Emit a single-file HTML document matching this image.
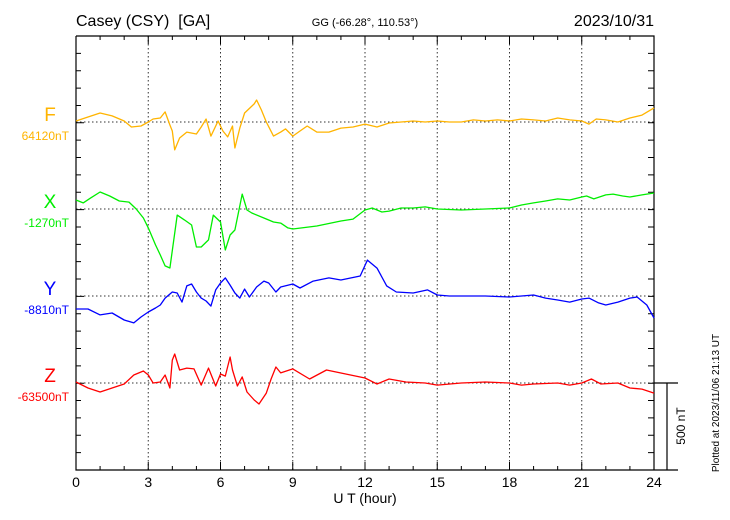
<!DOCTYPE html>
<html><head><meta charset="utf-8"><style>
html,body{margin:0;padding:0;background:#fff;}
svg{display:block;font-family:"Liberation Sans",sans-serif;}
</style></head><body>
<svg id="chart" width="730" height="520" viewBox="0 0 730 520" xmlns="http://www.w3.org/2000/svg">
<text x="76" y="26" font-size="16">Casey (CSY)&#160; [GA]</text>
<text x="365" y="26" font-size="11" text-anchor="middle">GG (-66.28°, 110.53°)</text>
<text x="654" y="26" font-size="16" text-anchor="end">2023/10/31</text>
<g id="grid"></g>
<g id="axes"></g>
<g id="series"></g>
<g id="labels"></g>
<text x="365" y="503" font-size="14" text-anchor="middle">U T (hour)</text>
<text x="685" y="426" font-size="12" text-anchor="middle" transform="rotate(-90 685 426)">500 nT</text>
<text x="719" y="403" font-size="10" text-anchor="middle" transform="rotate(-90 719 403)">Plotted at 2023/11/06 21:13 UT</text>
</svg>
<script>
const xTicks=[0,3,6,9,12,15,18,21,24];
const fHours=[0,0.25,0.5,1,1.5,2,2.3,2.7,3,3.2,3.5,3.7,3.9,4,4.1,4.3,4.6,5,5.2,5.4,5.6,5.9,6.1,6.3,6.5,6.6,6.8,7,7.4,7.5,7.7,7.9,8.2,8.5,8.7,9,9.3,9.6,10,10.5,11,11.5,12,12.5,13,13.5,14,14.5,15,15.5,16,16.5,17,17.5,18,18.5,19,19.5,20,20.5,21,21.3,21.6,22,22.5,23,23.5,24];
const fValues=[6,17,29,52,35,6,-29,-23,0,17,23,58,-17,-52,-161,-92,-58,-69,-29,17,-81,6,-52,-86,-23,-150,-35,52,104,127,69,0,-81,-58,-40,-81,-52,-23,-58,-58,-35,-29,-12,-29,-6,0,6,0,6,0,0,12,6,12,6,17,12,6,23,12,6,-12,17,12,0,23,40,81];
const xHours=[0,0.3,0.6,1,1.4,1.8,2.2,2.5,2.8,3,3.3,3.5,3.7,3.9,4.2,4.5,4.8,5,5.2,5.5,5.7,6,6.2,6.4,6.6,6.9,7.1,7.3,7.8,8.2,8.5,8.8,9,10,11,11.5,12,12.3,12.7,13,13.5,14,14.5,15,16,17,18,18.5,19,19.5,20,20.5,21,21.2,21.5,22,22.3,22.7,23,23.5,24];
const xValues=[52,35,63,98,75,46,40,0,-52,-109,-207,-265,-328,-340,-35,-63,-92,-219,-219,-178,-35,-75,-236,-150,-121,86,-6,-23,-52,-75,-81,-109,-115,-98,-69,-58,-6,6,-17,-12,6,6,12,0,-6,0,6,23,35,46,58,52,69,75,58,81,86,75,69,81,92];
const yHours=[0,0.5,1,1.5,2,2.4,2.7,3,3.3,3.5,3.7,4,4.2,4.4,4.6,4.8,5,5.2,5.4,5.6,5.8,6,6.2,6.4,6.6,6.8,7,7.2,7.5,7.8,8,8.3,8.5,9,9.3,9.85,10.5,11,11.8,12.1,12.5,12.9,13.3,14,14.6,15,15.5,16,17,18,18.5,19,19.5,20,20.5,21,21.3,21.7,22,22.5,23,23.3,23.7,24];
const yValues=[-75,-75,-109,-98,-138,-155,-121,-92,-69,-52,-12,23,17,-35,58,69,23,-12,-29,-58,35,75,104,63,17,-12,40,-6,52,86,75,23,52,69,46,86,104,92,115,207,161,58,23,17,35,6,0,0,0,-6,0,6,-12,-23,-35,-17,-12,-40,-52,-35,-12,-6,-52,-127];
const zHours=[0,0.5,1,1.5,2,2.4,2.8,3,3.2,3.5,3.7,3.9,4,4.1,4.3,4.6,4.9,5.2,5.5,5.8,6,6.2,6.4,6.5,6.7,6.9,7.1,7.4,7.6,7.9,8.1,8.3,8.5,9,9.7,10.4,11.2,12,12.5,13,13.7,14.5,15,16,17,18,18.5,19,20,20.5,21,21.4,21.8,22.5,23,23.5,24];
const zValues=[6,-29,-52,-29,-6,46,69,46,0,6,46,-29,132,167,75,86,81,-12,86,-17,52,40,150,75,-17,35,-52,-98,-121,-58,23,92,58,81,23,75,52,29,-6,23,6,0,-12,0,6,0,-12,-6,0,-12,0,23,-6,0,-29,-35,-58];
const NS='http://www.w3.org/2000/svg';
const X0=76,X1=654,YT=36,YB=470,PXPERNT=17.36/100;
function xs(h){return X0+(h/24)*(X1-X0);}
function ys(base,v){return base-v*PXPERNT;}
function mk(tag,attrs,parent){const e=document.createElementNS(NS,tag);for(const k in attrs)e.setAttribute(k,attrs[k]);parent.appendChild(e);return e;}
const grid=document.getElementById('grid'),axes=document.getElementById('axes'),ser=document.getElementById('series'),lab=document.getElementById('labels');
const bases=[122,209,296,383];
xTicks.forEach(t=>{if(t>0&&t<24){const l=mk('line',{x1:xs(t),x2:xs(t),y1:YT,y2:YB,stroke:'#333','stroke-width':1,'stroke-dasharray':'1.5,2.5'},grid);

}});
bases.forEach(b=>{const l=mk('line',{x1:X0,x2:X1,y1:b,y2:b,stroke:'#333','stroke-width':1,'stroke-dasharray':'1.5,2.5'},grid);

});
const fr=mk('path',{d:`M${X0},${YT}H${X1}V${YB}M${X0},${YT}V${YB}H678M${X1},383H678M667,383V${YB}`,stroke:'#000','stroke-width':1.2,fill:'none'},axes);


let d='';
for(let h=0;h<=24;h++){const len=h%3===0?8:4;const x=xs(h);d+=`M${x},${YB}V${YB-len}M${x},${YT}V${YT+len}`;}
for(let i=0;i<=25;i++){const y=YT+i*(YB-YT)/25;const isB=bases.some(b=>Math.abs(b-y)<2);d+=`M${X0},${y}H${X0+(isB?8:5)}M${X1},${y}H${X1-6}`;}
const tk=mk('path',{d:d,stroke:'#000','stroke-width':1,fill:'none'},axes);


xTicks.forEach(t=>{const e=mk('text',{x:xs(t),y:487,'font-size':14,'text-anchor':'middle'},axes);e.textContent=t;

});
const comps=[['F','64120nT','#ffb400',fHours,fValues],['X','-1270nT','#00ee00',xHours,xValues],['Y','-8810nT','#0000ff',yHours,yValues],['Z','-63500nT','#ff0000',zHours,zValues]];
comps.forEach((c,i)=>{const b=bases[i];
const pts=c[3].map((h,j)=>xs(h).toFixed(1)+','+ys(b,c[4][j]).toFixed(1)).join(' ');
const pl=mk('polyline',{points:pts,fill:'none',stroke:c[2],'stroke-width':1.3,'stroke-linejoin':'round'},ser);


const t=mk('text',{x:50,y:b-1,'font-size':19,fill:c[2],'text-anchor':'middle'},lab);t.textContent=c[0];


const v=mk('text',{x:69,y:b+18,'font-size':12,fill:c[2],'text-anchor':'end'},lab);v.textContent=c[1];

});
</script>
</body></html>
